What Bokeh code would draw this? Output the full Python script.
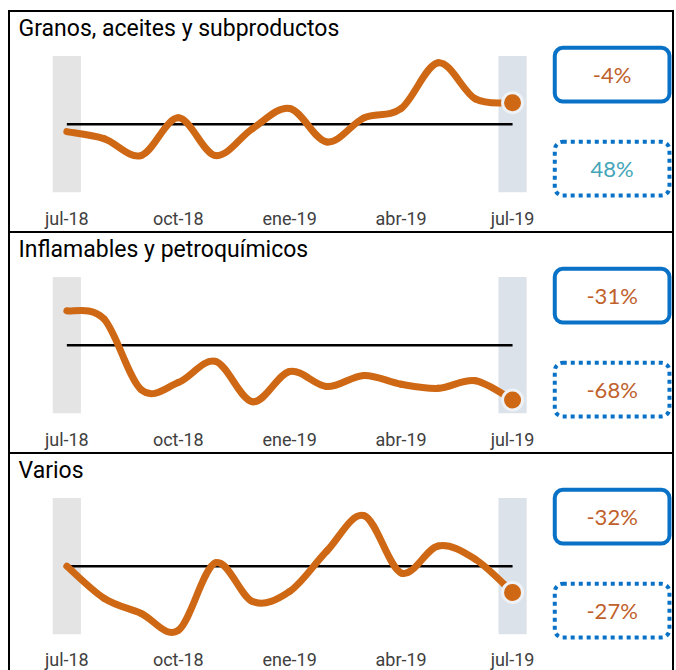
import numpy as np
from bokeh.plotting import figure
from bokeh.layouts import column, row
from bokeh.models import Range1d, FixedTicker, BoxAnnotation, Label, Spacer
from bokeh.embed import file_html
from bokeh.resources import INLINE

# ---------------- data ----------------
months = ["jul-18", "ago-18", "sep-18", "oct-18", "nov-18", "dic-18", "ene-19",
          "feb-19", "mar-19", "abr-19", "may-19", "jun-19", "jul-19"]
tick_months = ["jul-18", "oct-18", "ene-19", "abr-19", "jul-19"]

titles = ["Granos, aceites y subproductos", "Inflamables y petroquímicos", "Varios"]
granos = [89, 78.7, 54, 109.3, 54, 93.5, 123, 73.8, 109.3, 123, 190, 137, 131.5]
inflamables = [135.3, 127, 54.4, 61.6, 83.4, 41.9, 73, 57.5, 68.9, 59.9, 55.7, 63.5, 43.7]
varios = [100, 67.1, 51.5, 34, 103.4, 63.7, 74.1, 115.6, 151.9, 93.1, 120.7, 107, 73]
var_mensual = ["-4%", "-31%", "-32%"]
var_anual = ["48%", "-68%", "-27%"]
base = 100
y_min = [0, 30, 30]
y_max = [200, 170, 170]

series = [granos, inflamables, varios]

# ---------------- style / layout ----------------
ORANGE = "#cf6814"
BLUE = "#0a72c6"
NEG_TXT = "#c0612b"
POS_TXT = "#45a5b8"
BAND_L = "#e4e4e4"
BAND_R = "#dbe2ea"
TITLE_FONT = "Roboto"
LIGHT = "Lato"

W = 662            # canvas width
PX_MONTH = 36.92   # px per month
X0 = 56            # canvas x of first month
BAND_TOP, BAND_BOT = 43, 178
FRAME_H = [190, 190, 190]
BOTTOM = [29, 29, 26]
STANDOFF = [3, 3, 2]
BORDER = "2px solid black"


def bezier(xs, ys):
    n = len(xs)
    out = {k: [] for k in ["x0", "y0", "x1", "y1", "cx0", "cy0", "cx1", "cy1"]}
    for i in range(n - 1):
        a = max(i - 1, 0)
        d = min(i + 2, n - 1)
        out["x0"].append(xs[i]); out["y0"].append(ys[i])
        out["x1"].append(xs[i + 1]); out["y1"].append(ys[i + 1])
        out["cx0"].append(xs[i] + (xs[i + 1] - xs[a]) / 6)
        out["cy0"].append(ys[i] + (ys[i + 1] - ys[a]) / 6)
        out["cx1"].append(xs[i + 1] - (xs[d] - xs[i]) / 6)
        out["cy1"].append(ys[i + 1] - (ys[d] - ys[i]) / 6)
    return out


figs = []
x_start = -X0 / PX_MONTH
x_end = x_start + W / PX_MONTH
xs = list(range(len(months)))

for k in range(3):
    vals = series[k]
    per_px = (y_max[k] - y_min[k]) / (BAND_BOT - BAND_TOP)

    def yd(rel, k=k, per_px=per_px):
        return y_max[k] - (rel - BAND_TOP) * per_px

    def xd(cx):
        return x_start + cx / PX_MONTH

    p = figure(frame_width=W, frame_height=FRAME_H[k],
               x_range=Range1d(x_start, x_end),
               y_range=Range1d(yd(FRAME_H[k]), yd(0)),
               min_border_left=0, min_border_right=0, min_border_top=0,
               min_border_bottom=BOTTOM[k],
               toolbar_location=None, output_backend="svg",
               y_axis_location=None, outline_line_color=None,
               background_fill_color="white", border_fill_color="white",
               styles={"border-top": BORDER, "border-left": BORDER,
                       "border-right": BORDER})
    p.grid.visible = False
    ax = p.xaxis[0]
    ax.ticker = FixedTicker(ticks=[months.index(t) for t in tick_months])
    ax.major_label_overrides = {months.index(t): t for t in tick_months}
    ax.axis_line_color = None
    ax.major_tick_line_color = None
    ax.minor_tick_line_color = None
    ax.major_tick_out = 0
    ax.major_tick_in = 0
    ax.minor_tick_out = 0
    ax.minor_tick_in = 0
    ax.major_label_standoff = STANDOFF[k]
    ax.major_label_text_font = TITLE_FONT
    ax.major_label_text_font_size = "18px"
    ax.major_label_text_color = "#404040"

    # highlight bands at first and last month
    p.vbar(x=[xs[0]], width=28 / PX_MONTH, bottom=y_min[k], top=y_max[k],
           fill_color=BAND_L, line_color=None)
    p.vbar(x=[xs[-1]], width=28 / PX_MONTH, bottom=y_min[k], top=y_max[k],
           fill_color=BAND_R, line_color=None)

    # base line
    p.line([xs[0], xs[-1]], [base, base], line_color="black", line_width=2.5)

    # smoothed series
    b = bezier(xs, vals)
    p.bezier(x0=b["x0"], y0=b["y0"], x1=b["x1"], y1=b["y1"],
             cx0=b["cx0"], cy0=b["cy0"], cx1=b["cx1"], cy1=b["cy1"],
             line_color=ORANGE, line_width=7, line_cap="round")
    p.scatter([xs[-1]], [vals[-1]], size=20, fill_color=ORANGE,
              line_color="#eef2f6", line_width=3)

    # title
    p.add_layout(Label(x=xd(8), y=yd(16), text=titles[k], text_font=TITLE_FONT,
                       text_font_size="23px", text_color="black",
                       text_baseline="alphabetic"))

    # boxes
    for (top, bot, dash, txt) in [(35, 88, "solid", var_mensual[k]),
                                  (128, 181, "4 4", var_anual[k])]:
        p.add_layout(BoxAnnotation(left=xd(541), right=xd(655),
                                   top=yd(top), bottom=yd(bot),
                                   fill_color="white", fill_alpha=1,
                                   line_color=BLUE, line_alpha=1, line_width=4,
                                   line_dash=dash, border_radius=8))
        p.add_layout(Label(x=xd(598), y=yd((top + bot) / 2), text=txt,
                           text_font=LIGHT, text_font_size="22px",
                           text_color=NEG_TXT if txt.startswith("-") else POS_TXT,
                           text_align="center", text_baseline="middle"))
    figs.append(p)

layout = row(Spacer(width=8), column(Spacer(height=10), *figs, spacing=0), spacing=0)
open("out.html", "w").write(file_html(layout, INLINE))
